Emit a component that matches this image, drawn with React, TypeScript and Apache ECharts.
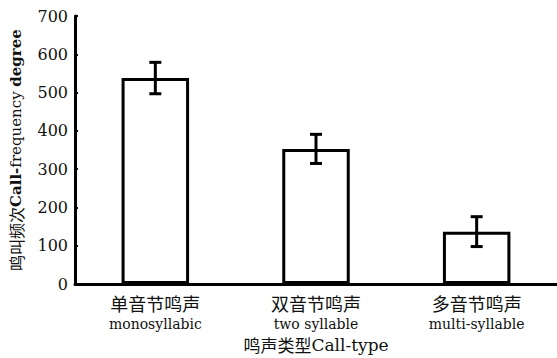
import React, { useEffect, useRef } from "react";
import * as echarts from "echarts";

const categoriesZh = ["单音节鸣声", "双音节鸣声", "多音节鸣声"];
const categoriesEn = ["monosyllabic", "two syllable", "multi-syllable"];
const means = [538, 353, 137];
const errors = [41, 38, 39];
const yTicks = { min: 0, max: 700, interval: 100 };

const SERIF = "DejaVu Serif";
const CJK = "Noto Sans CJK SC";

export default function App() {
  const ref = useRef<HTMLDivElement>(null);
  useEffect(() => {
    if (!ref.current) return;
    const chart = echarts.init(ref.current, undefined, { renderer: "svg" });
    const labels = categoriesZh.map((zh, i) => `${zh}\n${categoriesEn[i]}`);
    chart.setOption({
      animation: false,
      backgroundColor: "#ffffff",
      textStyle: { fontFamily: SERIF },
      grid: { left: 73, top: 16, right: 0, bottom: 73, containLabel: false },
      xAxis: {
        type: "category",
        data: labels,
        boundaryGap: true,
        axisLine: { lineStyle: { color: "#000", width: 3 } },
        axisTick: { inside: true, length: 4, lineStyle: { color: "#000", width: 2 } },
        axisLabel: {
          interval: 0,
          margin: 8,
          formatter: (v: string) => {
            const [zh, en] = v.split("\n");
            return `{zh|${zh}}\n{en|${en}}`;
          },
          rich: {
            zh: { fontFamily: CJK, fontSize: 18, color: "#111", lineHeight: 22 },
            en: { fontFamily: SERIF, fontSize: 14, color: "#111", lineHeight: 20 },
          },
        },
        name: "{z|鸣声类型}{e|Call-type}",
        nameLocation: "middle",
        nameGap: 48,
        nameTextStyle: {
          rich: {
            z: { fontFamily: CJK, fontSize: 17, color: "#111" },
            e: { fontFamily: SERIF, fontSize: 17, color: "#111" },
          },
        },
      },
      yAxis: {
        type: "value",
        min: yTicks.min,
        max: yTicks.max,
        interval: yTicks.interval,
        axisLine: { show: true, lineStyle: { color: "#000", width: 3 } },
        axisTick: { show: true, inside: true, length: 3, lineStyle: { color: "#000", width: 2 } },
        splitLine: { show: false },
        axisLabel: { fontFamily: SERIF, fontSize: 16, color: "#111", margin: 7 },
        name: "{n|鸣叫频次}{b|Call-}{e|frequency }{b|degree}",
        nameLocation: "middle",
        nameGap: 51,
        nameRotate: 90,
        nameTextStyle: {
          rich: {
            n: { fontFamily: CJK, fontSize: 16, color: "#111" },
            e: { fontFamily: SERIF, fontSize: 15, color: "#111" },
            b: { fontFamily: SERIF, fontSize: 15, color: "#111", fontWeight: "bold" },
          },
        },
      },
      series: [
        {
          type: "bar",
          data: means,
          barWidth: "42%",
          itemStyle: { color: "#fff", borderColor: "#000", borderWidth: 3 },
        },
        {
          type: "custom",
          data: means.map((m, i) => [i, m - errors[i], m + errors[i]]),
          renderItem: (params: any, api: any) => {
            const x = api.value(0);
            const lo = api.coord([x, api.value(1)]);
            const hi = api.coord([x, api.value(2)]);
            const hw = 6;
            const style = { stroke: "#000", lineWidth: 3 };
            return {
              type: "group",
              children: [
                { type: "line", shape: { x1: lo[0], y1: lo[1], x2: hi[0], y2: hi[1] }, style },
                { type: "line", shape: { x1: hi[0] - hw, y1: hi[1], x2: hi[0] + hw, y2: hi[1] }, style },
                { type: "line", shape: { x1: lo[0] - hw, y1: lo[1], x2: lo[0] + hw, y2: lo[1] }, style },
              ],
            };
          },
          z: 10,
        },
      ],
    });
    return () => chart.dispose();
  }, []);
  return (
    <div
      ref={ref}
      style={{ position: "fixed", left: 0, top: 0, width: 557, height: 358, background: "#fff" }}
    />
  );
}
